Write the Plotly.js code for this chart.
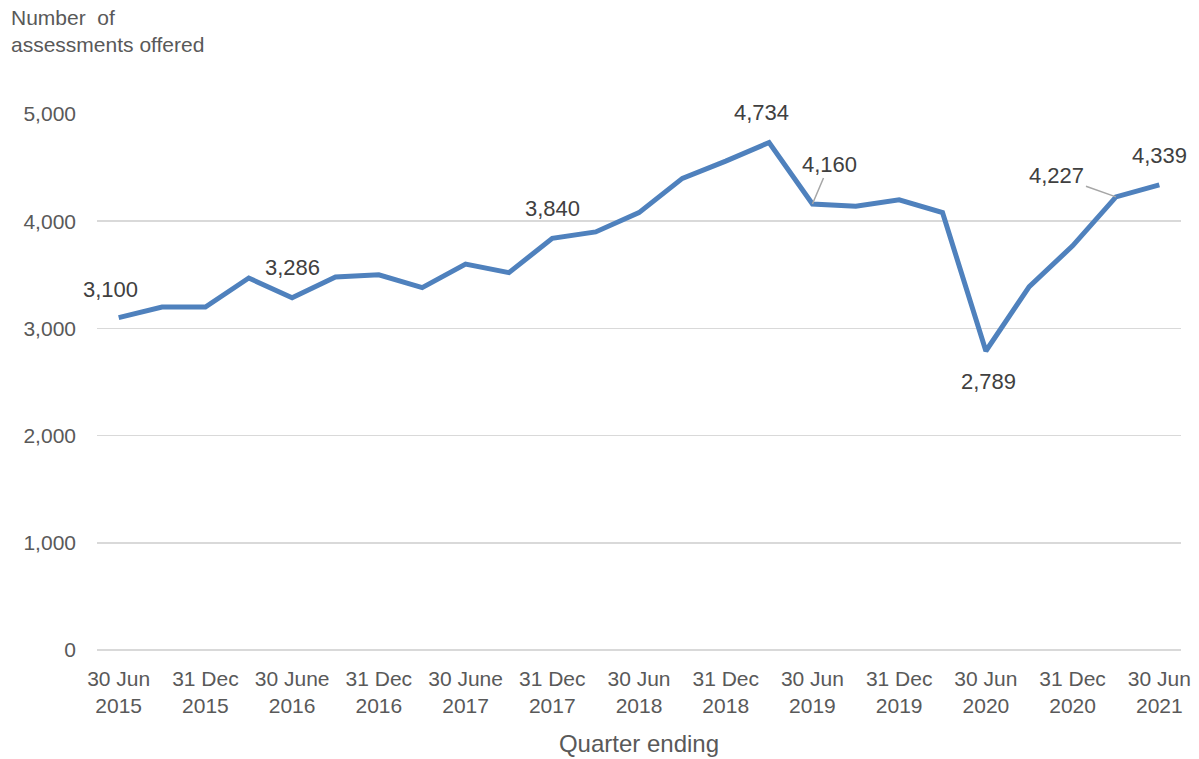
<!DOCTYPE html>
<html>
<head>
<meta charset="utf-8">
<script src="https://cdn.plot.ly/plotly-3.0.1.min.js"></script>
<style>html,body{margin:0;padding:0;background:#fff}#chart{width:1199px;height:759px}</style>
</head>
<body>
<div id="chart"></div>
<script>
const quarters = ["30 Jun 2015","30 Sep 2015","31 Dec 2015","31 Mar 2016","30 June 2016","30 Sep 2016","31 Dec 2016","31 Mar 2017","30 June 2017","30 Sep 2017","31 Dec 2017","31 Mar 2018","30 Jun 2018","30 Sep 2018","31 Dec 2018","31 Mar 2019","30 Jun 2019","30 Sep 2019","31 Dec 2019","31 Mar 2020","30 Jun 2020","30 Sep 2020","31 Dec 2020","31 Mar 2021","30 Jun 2021"];
const assessments = [3100,3200,3200,3470,3286,3480,3500,3380,3600,3520,3840,3900,4080,4400,4560,4734,4160,4140,4200,4080,2789,3390,3770,4227,4339];
const tickIdx = [0,2,4,6,8,10,12,14,16,18,20,22,24];
const tickLabels = ["30 Jun<br>2015","31 Dec<br>2015","30 June<br>2016","31 Dec<br>2016","30 June<br>2017","31 Dec<br>2017","30 Jun<br>2018","31 Dec<br>2018","30 Jun<br>2019","31 Dec<br>2019","30 Jun<br>2020","31 Dec<br>2020","30 Jun<br>2021"];
const yTicks = [0,1000,2000,3000,4000,5000];
const labelled = [0,4,10,15,16,20,23,24];

const xIdx = quarters.map((q,i)=>i);
const font = "Liberation Sans, Arial, sans-serif";
const labelPos = {0:[-8,28],4:[0,30],10:[0,30],15:[-8,30],20:[3,-30],24:[0,29]};
const annotations = labelled.map(i=>{
  const a = {x:i, y:assessments[i], xref:"x", yref:"y", text:assessments[i].toLocaleString("en-US"),
    font:{family:font,size:22,color:"#404040"}, showarrow:false};
  if(labelPos[i]){ a.xshift = labelPos[i][0]; a.yshift = labelPos[i][1]; }
  if(i===16){ Object.assign(a,{showarrow:true,arrowhead:0,arrowcolor:"#a6a6a6",arrowwidth:1.5,ax:17,ay:-40,standoff:0}); }
  if(i===23){ Object.assign(a,{showarrow:true,arrowhead:0,arrowcolor:"#a6a6a6",arrowwidth:1.5,ax:-59,ay:-21,standoff:0}); }
  return a;
});
annotations.push({xref:"paper",yref:"paper",x:-0.081,y:1.205,xanchor:"left",yanchor:"top",align:"left",showarrow:false,
  text:"Number  of<br>assessments offered",font:{family:font,size:21,color:"#595959"}});

Plotly.newPlot("chart",[{
  x:xIdx, y:assessments, type:"scatter", mode:"lines",
  line:{color:"#4f81bd",width:5}, hoverinfo:"y"
}],{
  width:1199,height:759,
  margin:{l:97,r:18,t:114,b:109},
  paper_bgcolor:"#fff",plot_bgcolor:"#fff",
  showlegend:false,
  font:{family:font,color:"#595959"},
  xaxis:{range:[-0.5,24.5],tickmode:"array",tickvals:tickIdx,ticktext:tickLabels,showgrid:false,zeroline:false,
    showline:false,ticks:"",ticklabelstandoff:14,tickfont:{family:font,size:21,color:"#595959"},
    title:{text:"Quarter ending",font:{family:font,size:24,color:"#595959"},standoff:18}},
  yaxis:{range:[0,5000],tickmode:"array",tickvals:yTicks,tickformat:",d",showgrid:true,gridcolor:"#d9d9d9",gridwidth:1.5,
    zeroline:true,zerolinecolor:"#d9d9d9",zerolinewidth:1.5,ticks:"",ticklabelstandoff:20,tickfont:{family:font,size:21,color:"#595959"}},
  annotations:annotations
},{displayModeBar:false,staticPlot:true});
</script>
</body>
</html>
